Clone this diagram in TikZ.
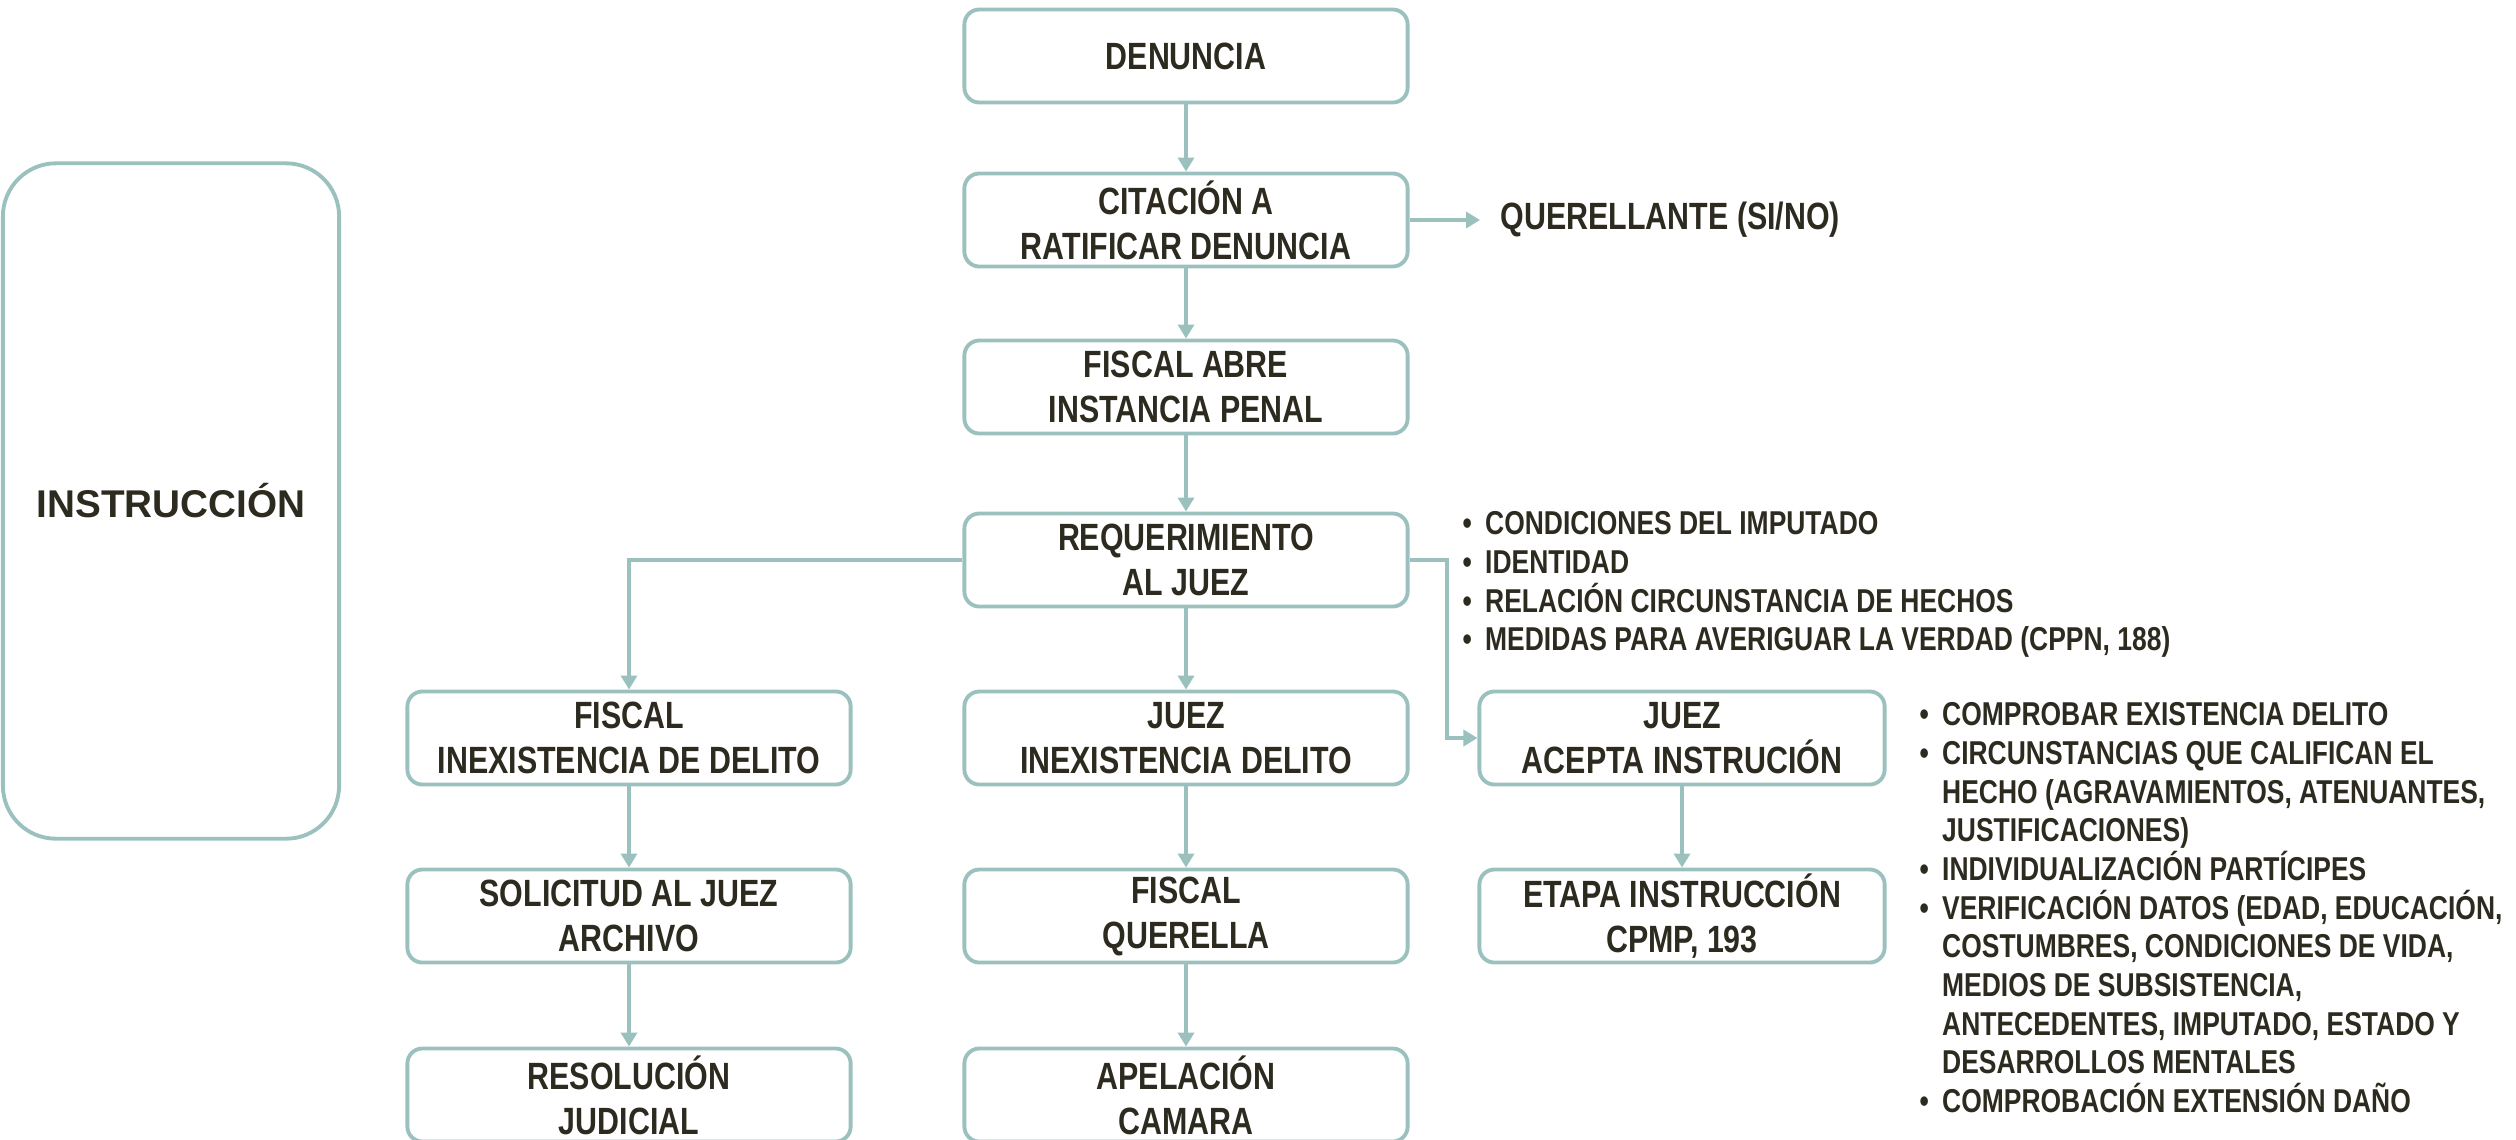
\documentclass[tikz,border=0pt]{standalone}
\usepackage{fontspec}
\setmainfont{Liberation Sans}
\newfontfamily\narrowfont{Liberation Sans}[FakeStretch=0.8]
\usepackage{xcolor}
\usetikzlibrary{arrows.meta}
\definecolor{boxline}{HTML}{9BC1BF}
\definecolor{ink}{HTML}{2D2B20}
\newcommand{\bul}{\textbullet\hspace{0.4em}}
\newcommand{\cont}{\phantom{\bul}}

\begin{document}
\begin{tikzpicture}[x=0.01cm,y=-0.01cm,
  box/.style={draw=boxline, line width=1.1pt, rounded corners=0.15cm,
    minimum width=4.43cm, minimum height=0.93cm, inner sep=0pt, align=center,
    text=ink, font=\narrowfont\bfseries\fontsize{10.8}{12.8}\selectfont},
  lst/.style={anchor=north west, inner sep=0pt, align=left, text=ink,
    font=\narrowfont\bfseries\fontsize{9.4}{11}\selectfont},
  arr/.style={draw=boxline, line width=1.1pt, -{Triangle[length=0.14cm,width=0.16cm]}}]
\useasboundingbox (0,0) rectangle (2516,1139);

\node (ins) at (171,501) [box, minimum width=3.36cm, minimum height=6.75cm,
  rounded corners=0.53cm, font=\bfseries\fontsize{11}{13}\selectfont] {INSTRUCCIÓN};

\node (den) at (1186,56) [box] {DENUNCIA};
\node (cit) at (1186,220) [box] {CITACIÓN A\\RATIFICAR DENUNCIA};
\node (fab) at (1186,387) [box] {FISCAL ABRE\\INSTANCIA PENAL};
\node (req) at (1186,560) [box] {REQUERIMIENTO\\AL JUEZ};
\node (fid) at (629,738) [box] {FISCAL\\INEXISTENCIA DE DELITO};
\node (jid) at (1186,738) [box] {JUEZ\\INEXISTENCIA DELITO};
\node (jac) at (1682,738) [box, minimum width=4.05cm] {JUEZ\\ACEPTA INSTRUCIÓN};
\node (sol) at (629,916) [box] {SOLICITUD AL JUEZ\\ARCHIVO};
\node (fqu) at (1186,916) [box] {FISCAL\\QUERELLA};
\node (eta) at (1682,916) [box, minimum width=4.05cm] {ETAPA INSTRUCCIÓN\\CPMP, 193};
\node (res) at (629,1095) [box] {RESOLUCIÓN\\JUDICIAL};
\node (ape) at (1186,1095) [box] {APELACIÓN\\CAMARA};

\coordinate (qend) at (1480,220);
\node (que) at (1500,220) [anchor=west, inner sep=0pt, text=ink,
  font=\narrowfont\bfseries\fontsize{10.8}{12.8}\selectfont] {QUERELLANTE (SI/NO)};

\node (lst1) at (1462,511) [lst] {\bul CONDICIONES DEL IMPUTADO\\
\bul IDENTIDAD\\
\bul RELACIÓN CIRCUNSTANCIA DE HECHOS\\
\bul MEDIDAS PARA AVERIGUAR LA VERDAD (CPPN, 188)};

\node (lst2) at (1919,702) [lst] {\bul COMPROBAR EXISTENCIA DELITO\\
\bul CIRCUNSTANCIAS QUE CALIFICAN EL\\
\cont HECHO (AGRAVAMIENTOS, ATENUANTES,\\
\cont JUSTIFICACIONES)\\
\bul INDIVIDUALIZACIÓN PARTÍCIPES\\
\bul VERIFICACIÓN DATOS (EDAD, EDUCACIÓN,\\
\cont COSTUMBRES, CONDICIONES DE VIDA,\\
\cont MEDIOS DE SUBSISTENCIA,\\
\cont ANTECEDENTES, IMPUTADO, ESTADO Y\\
\cont DESARROLLOS MENTALES\\
\bul COMPROBACIÓN EXTENSIÓN DAÑO};

\draw[arr] (den) to (cit);
\draw[arr] (cit) to (fab);
\draw[arr] (fab) to (req);
\draw[arr] (cit.east) to (qend);
\draw[arr] (req) to (jid);
\draw[arr] (req.west) -| (fid.north);
\draw[arr] (req.east) -- ++(37,0) |- (jac.west);
\draw[arr] (fid) to (sol);
\draw[arr] (sol) to (res);
\draw[arr] (jid) to (fqu);
\draw[arr] (fqu) to (ape);
\draw[arr] (jac) to (eta);
\end{tikzpicture}
\end{document}
